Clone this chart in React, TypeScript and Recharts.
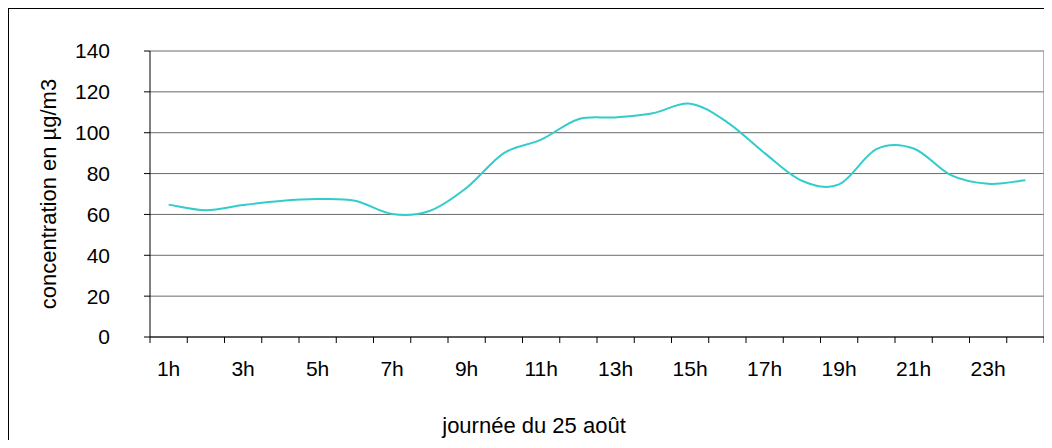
import React from 'react';
import { LineChart, Line, XAxis, YAxis, CartesianGrid, ReferenceLine } from 'recharts';

// ---- data ----
const hours = [1, 2, 3, 4, 5, 6, 7, 8, 9, 10, 11, 12, 13, 14, 15, 16, 17, 18, 19, 20, 21, 22, 23, 24];
const concentration = [
  64.8, 62.1, 64.6, 66.6, 67.5, 66.7, 60.2, 61.7, 73.1, 90.0, 96.6, 106.6,
  107.5, 109.5, 114.2, 105.1, 90.0, 76.5, 74.7, 92.0, 92.3, 79.2, 75.0, 76.7,
];
const labelHours = [1, 3, 5, 7, 9, 11, 13, 15, 17, 19, 21, 23];
const yTicks = [0, 20, 40, 60, 80, 100, 120, 140];
const xTitle = 'journée du 25 août';
const yTitle = 'concentration en µg/m3';

const data = hours.map((h, i) => ({ hour: h, value: concentration[i] }));
const boundaryTicks = [...hours.map((h) => h - 0.5), hours[hours.length - 1] + 0.5];
const xTicks = [...boundaryTicks, ...labelHours].sort((a, b) => a - b);

const FONT = 'Arial, "Liberation Sans", sans-serif';

// Excel-like smoothed line (Catmull-Rom as cubic Bezier)
function excelSmooth(context: any) {
  let pts: number[][] = [];
  return {
    areaStart() {},
    areaEnd() {},
    lineStart() {
      pts = [];
    },
    point(x: number, y: number) {
      pts.push([+x, +y]);
    },
    lineEnd() {
      const n = pts.length;
      if (!n) return;
      context.moveTo(pts[0][0], pts[0][1]);
      for (let i = 0; i < n - 1; i++) {
        const p0 = pts[i - 1] || pts[i];
        const p1 = pts[i];
        const p2 = pts[i + 1];
        const p3 = pts[i + 2] || p2;
        context.bezierCurveTo(
          p1[0] + (p2[0] - p0[0]) / 6,
          p1[1] + (p2[1] - p0[1]) / 6,
          p2[0] - (p3[0] - p1[0]) / 6,
          p2[1] - (p3[1] - p1[1]) / 6,
          p2[0],
          p2[1]
        );
      }
    },
  };
}

const XTick = (props: any) => {
  const { x, y, payload } = props;
  const v = payload.value;
  if (Number.isInteger(v)) {
    return (
      <text x={x} y={y + 39} textAnchor="middle" fontSize={21} fontFamily={FONT} fill="#000">
        {`${v}h`}
      </text>
    );
  }
  return <line x1={x} x2={x} y1={y} y2={y + 6} stroke="#000" strokeWidth={1} />;
};

export default function App() {
  return (
    <div style={{ position: 'relative', width: 1044, height: 432 }}>
      <LineChart
        width={1044}
        height={432}
        data={data}
        margin={{ top: 43, right: 8, bottom: 0, left: 0 }}
        style={{ fontFamily: FONT }}
      >
        <CartesianGrid horizontal vertical={false} stroke="#6a6a6a" strokeWidth={1} />
        <XAxis
          dataKey="hour"
          type="number"
          domain={[0.5, 24.5]}
          ticks={xTicks}
          interval={0}
          tickLine={false}
          tickSize={0}
          tickMargin={0}
          tick={<XTick />}
          axisLine={{ stroke: '#000', strokeWidth: 1 }}
          height={103}
          label={{
            value: xTitle,
            position: 'insideBottom',
            offset: 7,
            dx: -63,
            fontSize: 22,
            fontFamily: FONT,
            fill: '#000',
          }}
        />
        <YAxis
          type="number"
          domain={[0, 140]}
          ticks={yTicks}
          interval={0}
          width={142}
          tickSize={6}
          tickMargin={34}
          tickLine={{ stroke: '#000' }}
          axisLine={{ stroke: '#000', strokeWidth: 1 }}
          tick={{ fontSize: 21, fontFamily: FONT, fill: '#000' }}
          label={{
            value: yTitle,
            angle: -90,
            position: 'insideLeft',
            offset: 40,
            style: { textAnchor: 'middle' },
            fontSize: 22,
            fontFamily: FONT,
            fill: '#000',
          }}
        />
        <ReferenceLine x={24.5} stroke="#9a9a9a" strokeWidth={1.5} />
        <Line
          type={excelSmooth as any}
          dataKey="value"
          stroke="#33CCCC"
          strokeWidth={2}
          dot={false}
          activeDot={false}
          isAnimationActive={false}
        />
      </LineChart>
      <div
        style={{
          position: 'absolute',
          top: 0,
          left: 0,
          width: 1044,
          height: 432,
          boxSizing: 'border-box',
          borderTop: '1px solid #000',
          borderLeft: '1px solid #000',
          pointerEvents: 'none',
        }}
      />
    </div>
  );
}
